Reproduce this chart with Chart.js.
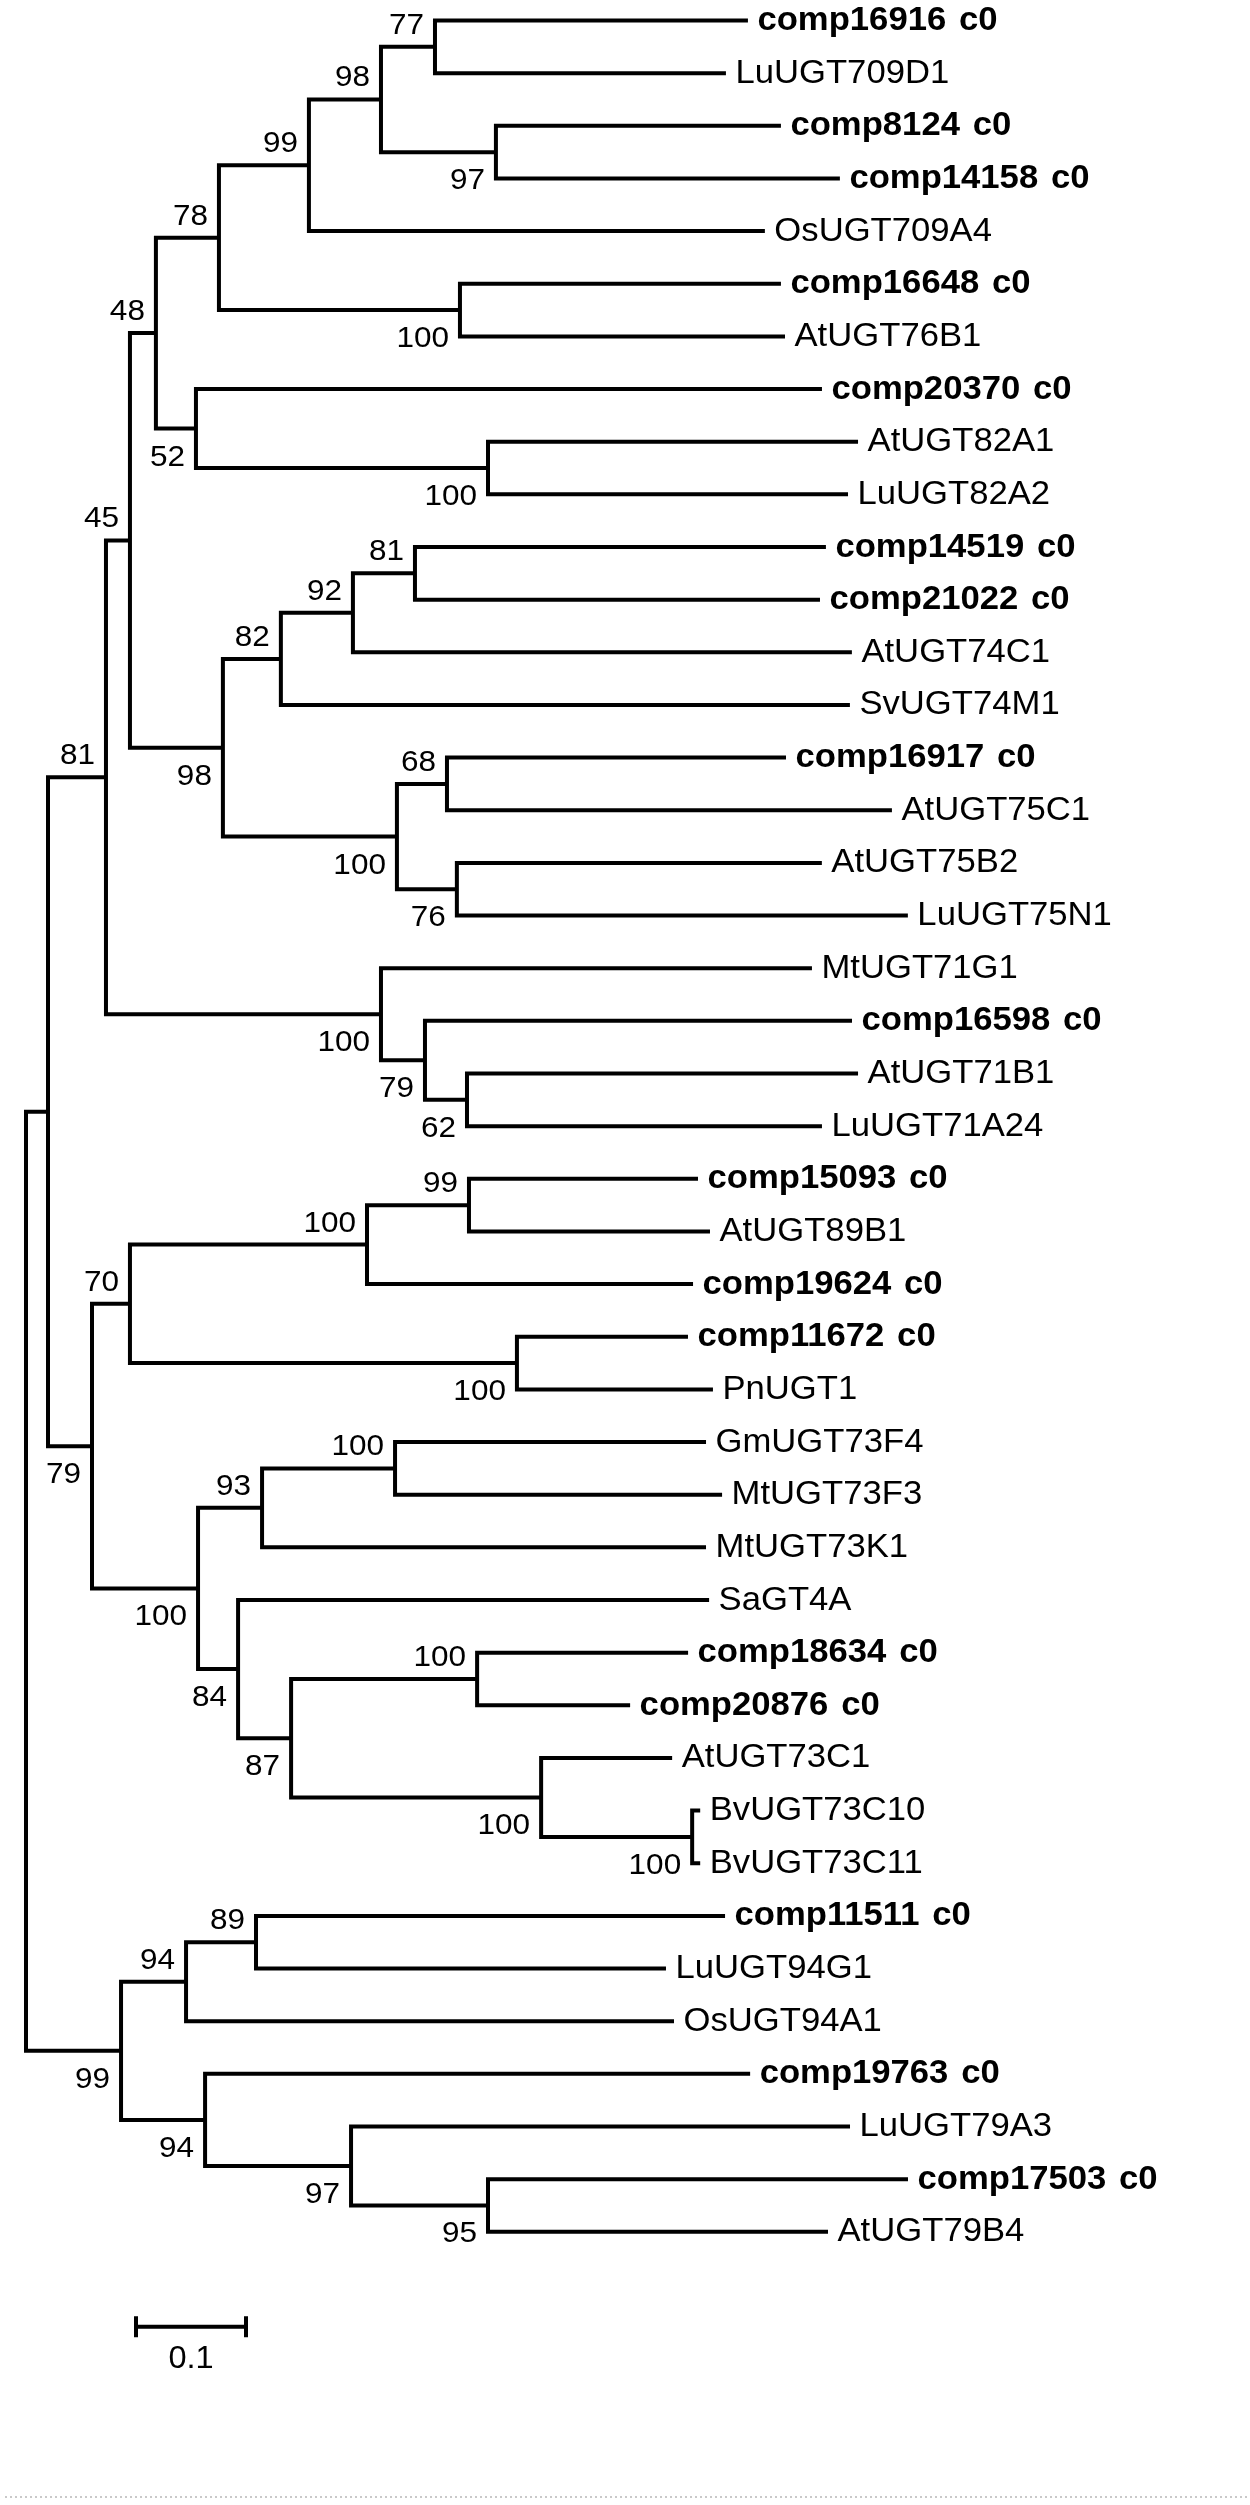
<!DOCTYPE html>
<html>
<head>
<meta charset="utf-8">
<script src="https://cdn.jsdelivr.net/npm/chart.js@4.4.1/dist/chart.umd.min.js"></script>
<style>
html,body{margin:0;padding:0;background:#fff;overflow:hidden}
#wrap{position:relative;width:1250px;height:2505px}
</style>
</head>
<body>
<div id="wrap"><canvas id="c"></canvas></div>
<script>
// ---- DATA: tree topology, branch lengths (substitutions/site) and bootstrap values (Newick) ----
const cladeUGT709_76_82 = "(((((comp16916 c0:0.2845,LuUGT709D1:0.2645)77:0.0491,(comp8124 c0:0.2591,comp14158 c0:0.3127)97:0.1045)98:0.0655,OsUGT709A4:0.4145)99:0.0818,(comp16648 c0:0.2918,AtUGT76B1:0.2955)100:0.2191)78:0.0573,(comp20370 c0:0.5691,(AtUGT82A1:0.3364,LuUGT82A2:0.3273)100:0.2655)52:0.0364)48:0.0236";
const cladeUGT74_75 = "((((comp14519 c0:0.3736,comp21022 c0:0.3682)81:0.0564,AtUGT74C1:0.4536)92:0.0655,SvUGT74M1:0.5173)82:0.0527,((comp16917 c0:0.3082,AtUGT75C1:0.4045)68:0.0455,(AtUGT75B2:0.3318,LuUGT75N1:0.4100)76:0.0545)100:0.1582)98:0.0845";
const cladeUGT71 = "(MtUGT71G1:0.3918,(comp16598 c0:0.3882,(AtUGT71B1:0.3555,LuUGT71A24:0.3227)62:0.0382)79:0.0400)100:0.2500";
const cladeUGT89_73 = "((((comp15093 c0:0.2082,AtUGT89B1:0.2191)99:0.0927,comp19624 c0:0.2964)100:0.2155,(comp11672 c0:0.1555,PnUGT1:0.1782)100:0.3518)70:0.0345,(((GmUGT73F4:0.2827,MtUGT73F3:0.2973)100:0.1209,MtUGT73K1:0.4036)93:0.0582,(SaGT4A:0.4282,((comp18634 c0:0.1918,comp20876 c0:0.1391)100:0.1691,(AtUGT73C1:0.1191,(BvUGT73C10:0.0073,BvUGT73C11:0.0073)100:0.1373)100:0.2273)87:0.0482)84:0.0364)100:0.0964)79:0.0400";
const cladeUGT94_79 = "(((comp11511 c0:0.4264,LuUGT94G1:0.3727)89:0.0636,OsUGT94A1:0.4436)94:0.0591,(comp19763 c0:0.4955,(LuUGT79A3:0.4536,(comp17503 c0:0.3818,AtUGT79B4:0.3091)95:0.1245)97:0.1327)94:0.0764)99:0.0864";
const boldPrefixes = ["comp"];
const scaleBarLength = 0.1;
const scaleBarLabel = "0.1";

const treeNewick = "((((" + cladeUGT709_76_82 + "," + cladeUGT74_75 + ")45:0.0218," + cladeUGT71 + ")81:0.0527," + cladeUGT89_73 + "):0.0200," + cladeUGT94_79 + ");";

// ---- parse Newick ----
function parseNewick(s){
  let i = 0;
  function node(){
    const n = {children:[], name:'', support:'', length:0};
    if (s[i] === '('){
      i++;
      n.children.push(node());
      while (s[i] === ','){ i++; n.children.push(node()); }
      i++; // ')'
    }
    let lab = '';
    while (i < s.length && !',():;'.includes(s[i])) lab += s[i++];
    if (n.children.length) n.support = lab.trim(); else n.name = lab.trim();
    if (s[i] === ':'){
      i++; let num = '';
      while (i < s.length && !',();'.includes(s[i])) num += s[i++];
      n.length = parseFloat(num);
    }
    return n;
  }
  return node();
}

const root = parseNewick(treeNewick);
const leaves = [], internals = [];
(function layout(n, depth){
  n.depth = depth;
  if (!n.children.length){ n.y = leaves.length; leaves.push(n); return; }
  n.children.forEach(c => layout(c, depth + c.length));
  n.y = (n.children[0].y + n.children[n.children.length-1].y) / 2;
  internals.push(n);
  n.children.forEach((c, k) => { c.isFirst = (k === 0); });
})(root, 0);

// ---- datasets: one bracket polyline per internal node ----
const datasets = internals.map(n => {
  const a = n.children[0], b = n.children[n.children.length-1];
  return {
    data: [
      {x:a.depth, y:a.y}, {x:n.depth, y:a.y},
      {x:n.depth, y:b.y}, {x:b.depth, y:b.y}
    ],
    showLine:true, borderColor:'#000', borderWidth:4,
    borderJoinStyle:'miter', borderCapStyle:'butt',
    pointRadius:0, pointHoverRadius:0, tension:0, fill:false
  };
});

// ---- pixel frame of the drawing (layout) ----
const W = 1250, H = 2505;
const rootPx = 26, unitPx = 1100;     // horizontal: px of root, px per substitution/site
const firstLeafPx = 20.5, leafStepPx = 52.65;
const FONT = '"Liberation Sans", Arial, Helvetica, sans-serif';
const SX = 1.05;

function stretchedText(ctx, t, px, py, align){
  ctx.save();
  ctx.translate(px, py);
  ctx.scale(SX, 1);
  ctx.textAlign = align;
  ctx.textBaseline = 'alphabetic';
  ctx.fillText(t, 0, 0);
  ctx.restore();
}

const treeText = {
  id:'treeText',
  afterDatasetsDraw(chart){
    const {ctx} = chart, xs = chart.scales.x, ys = chart.scales.y;
    ctx.save();
    ctx.fillStyle = '#000';
    // leaf labels
    leaves.forEach(l => {
      const bold = boldPrefixes.some(p => l.name.startsWith(p));
      ctx.font = (bold ? 'bold ' : '') + '33px ' + FONT;
      if ('wordSpacing' in ctx) ctx.wordSpacing = bold ? '3px' : '0px';
      stretchedText(ctx, l.name, xs.getPixelForValue(l.depth) + 9.5, ys.getPixelForValue(l.y) + 9.5, 'left');
    });
    if ('wordSpacing' in ctx) ctx.wordSpacing = '0px';
    // bootstrap values
    ctx.font = '30px ' + FONT;
    internals.forEach(n => {
      if (!n.support) return;
      const px = xs.getPixelForValue(n.depth) - 11;
      const py = ys.getPixelForValue(n.y) + (n.isFirst ? -13 : 37);
      stretchedText(ctx, n.support, px, py, 'right');
    });
    // scale bar
    const lastLeafPy = ys.getPixelForValue(leaves.length - 1);
    const by = lastLeafPy + 95;
    const bx0 = xs.getPixelForValue(scaleBarLength);
    const bx1 = xs.getPixelForValue(2 * scaleBarLength);
    ctx.strokeStyle = '#000';
    ctx.lineWidth = 4;
    ctx.lineCap = 'butt';
    ctx.beginPath();
    ctx.moveTo(bx0, by); ctx.lineTo(bx1, by);
    ctx.moveTo(bx0, by - 10.5); ctx.lineTo(bx0, by + 10.5);
    ctx.moveTo(bx1, by - 10.5); ctx.lineTo(bx1, by + 10.5);
    ctx.stroke();
    ctx.font = '31px ' + FONT;
    stretchedText(ctx, scaleBarLabel, (bx0 + bx1) / 2, by + 41, 'center');
    // faint dotted border line at the bottom
    ctx.strokeStyle = '#b8b8b8';
    ctx.lineWidth = 1.5;
    ctx.setLineDash([2, 3]);
    ctx.beginPath();
    ctx.moveTo(5, H - 8); ctx.lineTo(W, H - 8);
    ctx.stroke();
    ctx.restore();
  }
};

new Chart(document.getElementById('c'), {
  type:'scatter',
  data:{datasets},
  options:{
    responsive:true, maintainAspectRatio:false, animation:false,
    layout:{padding:0},
    events:[],
    plugins:{legend:{display:false}, tooltip:{enabled:false}},
    scales:{
      x:{type:'linear', display:false, min:-rootPx/unitPx, max:(W-rootPx)/unitPx},
      y:{type:'linear', display:false, reverse:true,
         min:-firstLeafPx/leafStepPx, max:(H-firstLeafPx)/leafStepPx}
    }
  },
  plugins:[treeText]
});
</script>
</body>
</html>
